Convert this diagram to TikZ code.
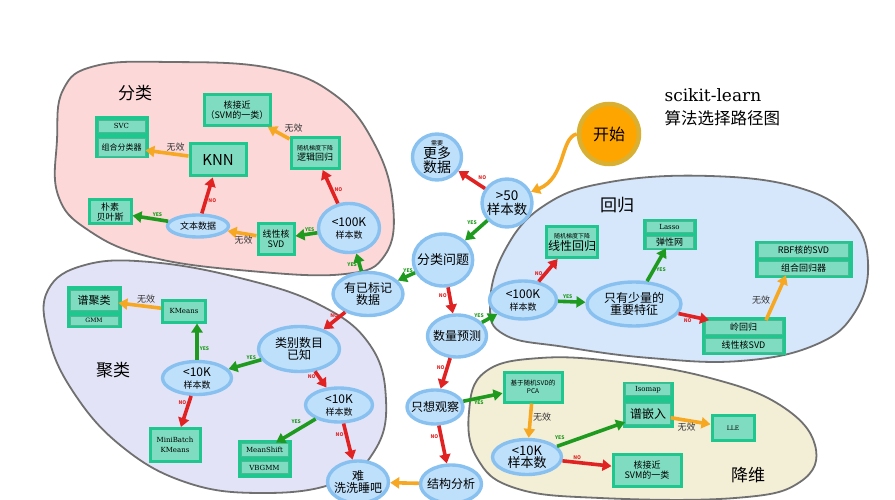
\documentclass[tikz,border=0pt]{standalone}
\usepackage{fontspec}
\setmainfont{Noto Sans CJK SC}
\newfontfamily\serifen{DejaVu Serif}
\usepackage{xcolor}
\usetikzlibrary{shapes,arrows,positioning,calc,arrows.meta}

\definecolor{nodeblue}{HTML}{BFE0FB}
\definecolor{nodeedge}{HTML}{88C1F0}
\definecolor{boxfill}{HTML}{7FDCC0}
\definecolor{boxedge}{HTML}{1FC68E}
\definecolor{rowedge}{HTML}{4CB894}
\definecolor{yesgreen}{HTML}{1E9B1E}
\definecolor{nored}{HTML}{E02222}
\definecolor{failorange}{HTML}{F7A823}
\definecolor{startorange}{HTML}{FFA500}
\definecolor{startedge}{HTML}{D9B032}
\definecolor{blobpink}{HTML}{FDD8D8}
\definecolor{bloblilac}{HTML}{E3E3F7}
\definecolor{blobblue}{HTML}{D6E6FB}
\definecolor{blobbeige}{HTML}{F3EED6}
\definecolor{blobline}{HTML}{707070}

\tikzset{
  blob/.style={draw=blobline, line width=1.8pt},
  dec/.style={ellipse, draw=nodeedge, fill=nodeblue, line width=3.4pt, inner xsep=-5pt, inner ysep=-3pt, align=center, font=\fontsize{12}{12}\selectfont},
  startnode/.style={circle, draw=startedge, fill=startorange, line width=4.5pt, minimum size=60pt, inner sep=0pt, font=\fontsize{16}{16}\selectfont},
  algo/.style={rectangle, draw=boxedge, fill=boxfill, line width=3pt, inner sep=1pt, align=center, font=\fontsize{9}{10}\selectfont},
  stackbox/.style={rectangle, draw=boxedge, fill=boxedge, line width=1pt, inner sep=0pt},
  algrow/.style={rectangle, draw=rowedge, fill=boxfill, line width=.8pt, inner sep=0pt, align=center, font=\fontsize{9}{10}\selectfont},
  yesarrow/.style={draw=yesgreen, line width=3.6pt, -{Triangle[length=9pt,width=11pt]}},
  noarrow/.style={draw=nored, line width=3.6pt, -{Triangle[length=9pt,width=11pt]}},
  failarrow/.style={draw=failorange, line width=3.6pt, -{Triangle[length=9pt,width=11pt]}},
  yestext/.style={text=yesgreen, font=\fontsize{5}{5}\selectfont\bfseries, inner sep=1pt},
  notext/.style={text=nored, font=\fontsize{5}{5}\selectfont\bfseries, inner sep=1pt},
  failtext/.style={text=black!80, font=\fontsize{9}{9}\selectfont, inner sep=1pt},
  areatext/.style={font=\fontsize{17}{17}\selectfont}
}
\newcommand{\tinyline}[1]{{\fontsize{6}{6}\selectfont #1}}
\newcommand{\smallline}[1]{{\fontsize{9}{10}\selectfont #1}}

\begin{document}
\begin{tikzpicture}[x=1pt,y=-1pt]
\useasboundingbox (0,0) rectangle (895,500);

% areas
\draw[blob, fill=blobpink] plot[smooth cycle, tension=0.7] coordinates {(57,140) (63,90) (95,66) (170,62) (270,68) (335,95) (375,145) (393,205) (385,255) (345,274) (250,271) (150,257) (88,230) (58,195)};
\draw[blob, fill=bloblilac] plot[smooth cycle, tension=0.7] coordinates {(48,290) (85,265) (150,262) (240,278) (320,305) (370,345) (386,400) (375,450) (335,483) (260,493) (185,482) (120,445) (72,390) (48,335)};
\draw[blob, fill=blobblue] plot[smooth cycle, tension=0.7] coordinates {(490,305) (505,250) (545,205) (610,182) (710,176) (800,188) (850,218) (868,262) (855,312) (815,345) (740,361) (650,358) (565,347) (505,335)};
\draw[blob, fill=blobbeige] plot[smooth cycle, tension=0.7] coordinates {(469,412) (485,372) (540,358) (620,362) (710,378) (780,405) (815,445) (800,482) (735,498) (600,498) (515,488) (477,458)};

\node[areatext] (lblclass) at (135,93) {分类};
\node[areatext] (lblreg) at (617,205) {回归};
\node[areatext] (lblclust) at (113,370) {聚类};
\node[areatext] (lbldim) at (748,475) {降维};

% title
\node[anchor=west, font=\serifen\fontsize{17}{17}\selectfont] (title) at (661,95) {scikit-learn};
\node[anchor=west, font=\fontsize{16.5}{16.5}\selectfont] (subtitle) at (661,118) {算法选择路径图};

% main path
\node[startnode] (start) at (609,134) {开始};
\node[dec, minimum width=50pt, minimum height=48pt, font=\fontsize{13.5}{13.5}\selectfont] (big50) at (507,203) {>50\\样本数};
\node[dec, minimum width=49pt, minimum height=46pt, font=\fontsize{14}{12}\selectfont] (moredata) at (437,157) {\tinyline{需要}\\更多\\数据};
\node[dec, minimum width=58pt, minimum height=52pt, font=\fontsize{13}{13}\selectfont] (isclass) at (443,260) {分类问题};
\node[dec, minimum width=70pt, minimum height=43pt] (labeled) at (368,294) {有已标记\\数据};
\node[dec, minimum width=59pt, minimum height=42pt] (quantity) at (457,336) {数量预测};
\node[dec, minimum width=56pt, minimum height=34pt] (justlook) at (435,407) {只想观察};
\node[dec, minimum width=61pt, minimum height=38pt] (structure) at (451,484) {结构分析};
\node[dec, minimum width=61pt, minimum height=42pt] (tough) at (358,482) {难\\洗洗睡吧};

% classification
\node[dec, minimum width=61pt, minimum height=49pt] (cls100k) at (349,228) {<100K\\\smallline{样本数}};
\node[dec, minimum width=61pt, minimum height=22pt, font=\fontsize{9}{9}\selectfont] (textdata) at (198,226) {文本数据};
\node[algo, minimum width=48pt, minimum height=31pt] (sgdlog) at (315,153) {\tinyline{随机梯度下降}\\逻辑回归};
\node[algo, minimum width=66pt, minimum height=31pt] (kernapprox) at (237,110) {核接近\\（SVM的一类）};
\node[algo, minimum width=56pt, minimum height=32pt, font=\fontsize{15}{15}\selectfont] (knn) at (218,160) {KNN};
\node[algo, minimum width=42pt, minimum height=24pt] (naive) at (110,212) {朴素\\贝叶斯};
\node[algo, minimum width=36pt, minimum height=30pt] (linsvd) at (276,239) {线性核\\SVD};
\node[stackbox, minimum width=53pt, minimum height=41pt] (svc) at (121.5,137.5) {};
\node[algrow, minimum width=47pt, minimum height=12pt, font=\serifen\fontsize{7}{7}\selectfont] (svcA) at (121.5,126) {SVC};
\node[algrow, minimum width=47pt, minimum height=18pt, font=\fontsize{8}{8}\selectfont] (svcB) at (121.5,147) {组合分类器};

% regression
\node[dec, minimum width=67pt, minimum height=38pt] (reg100k) at (523,300) {<100K\\\smallline{样本数}};
\node[dec, minimum width=94pt, minimum height=44pt] (fewfeat) at (634,304) {只有少量的\\重要特征};
\node[algo, minimum width=51pt, minimum height=31pt, font=\fontsize{12}{12}\selectfont] (sgdlin) at (572,242) {\tinyline{随机梯度下降}\\线性回归};
\node[stackbox, minimum width=53pt, minimum height=29pt] (lasso) at (669.5,234.5) {};
\node[algrow, minimum width=47pt, minimum height=11pt, font=\serifen\fontsize{7}{7}\selectfont] (lassoA) at (669.5,227) {Lasso};
\node[algrow, minimum width=47pt, minimum height=12pt] (lassoB) at (669.5,242) {弹性网};
\node[stackbox, minimum width=83pt, minimum height=37pt] (ridge) at (743.5,335.5) {};
\node[algrow, minimum width=77pt, minimum height=14pt] (ridgeA) at (743.5,327.5) {岭回归};
\node[algrow, minimum width=77pt, minimum height=14pt] (ridgeB) at (743.5,345) {线性核SVD};
\node[stackbox, minimum width=97pt, minimum height=36pt] (rbf) at (803.5,259) {};
\node[algrow, minimum width=90pt, minimum height=14pt] (rbfA) at (803.5,250.5) {RBF核的SVD};
\node[algrow, minimum width=90pt, minimum height=14pt] (rbfB) at (803.5,268) {组合回归器};

% clustering
\node[dec, minimum width=81pt, minimum height=45pt] (catknown) at (299,349) {类别数目\\已知};
\node[dec, minimum width=69pt, minimum height=33pt] (clu10kA) at (197,378) {<10K\\\smallline{样本数}};
\node[dec, minimum width=67pt, minimum height=34pt] (clu10kB) at (339,405) {<10K\\\smallline{样本数}};
\node[algo, minimum width=43pt, minimum height=22pt, font=\serifen\fontsize{7}{7}\selectfont] (kmeans) at (184,311) {KMeans};
\node[algo, minimum width=50pt, minimum height=33pt, font=\serifen\fontsize{7}{10}\selectfont] (minibatch) at (175,445) {MiniBatch\\KMeans};
\node[stackbox, minimum width=54pt, minimum height=41pt] (spectral) at (94,306.5) {};
\node[algrow, minimum width=48pt, minimum height=20pt, font=\fontsize{11}{11}\selectfont] (spectralA) at (94,300) {谱聚类};
\node[algrow, minimum width=48pt, minimum height=9pt, font=\serifen\fontsize{6}{6}\selectfont] (spectralB) at (94,320.5) {GMM};
\node[stackbox, minimum width=53pt, minimum height=37pt] (meanshift) at (264.5,458.5) {};
\node[algrow, minimum width=47pt, minimum height=13pt, font=\serifen\fontsize{7}{7}\selectfont] (meanshiftA) at (264.5,449.5) {MeanShift};
\node[algrow, minimum width=47pt, minimum height=12pt, font=\serifen\fontsize{7}{7}\selectfont] (meanshiftB) at (264.5,467.5) {VBGMM};

% dimensionality reduction
\node[dec, minimum width=69pt, minimum height=35pt, font=\fontsize{13}{12}\selectfont] (dim10k) at (527,457) {<10K\\样本数};
\node[algo, minimum width=58pt, minimum height=30pt, font=\fontsize{6.5}{8}\selectfont] (pca) at (533,387) {基于随机SVD的\\PCA};
\node[algo, minimum width=42pt, minimum height=25pt, font=\serifen\fontsize{6}{6}\selectfont] (lle) at (733,428) {LLE};
\node[algo, minimum width=68pt, minimum height=32pt] (svmone) at (647,470) {核接近\\SVM的一类};
\node[stackbox, minimum width=50pt, minimum height=45pt] (isomap) at (648,404.5) {};
\node[algrow, minimum width=45pt, minimum height=12pt, font=\serifen\fontsize{7}{7}\selectfont] (isomapA) at (648,389.5) {Isomap};
\node[algrow, minimum width=45pt, minimum height=21pt, font=\fontsize{12}{12}\selectfont] (isomapB) at (648,414) {谱嵌入};

% connectors
\draw[failarrow] (start.west) .. controls (560,138) and (566,178) .. (big50.25);
\draw[noarrow] (big50) -- (moredata) node[notext, pos=.35, above right] {NO};
\draw[yesarrow] (big50) -- (isclass) node[yestext, pos=.35, above left] {YES};
\draw[yesarrow] (isclass) -- (labeled) node[yestext, pos=.4, above] {YES};
\draw[yesarrow] (labeled) -- (cls100k) node[yestext, pos=.35, left] {YES};
\draw[noarrow] (cls100k) -- (sgdlog) node[notext, pos=.4, right] {NO};
\draw[failarrow] (sgdlog) -- (kernapprox) node[failtext, pos=.35, above right] {无效};
\draw[yesarrow] (cls100k) -- (linsvd) node[yestext, pos=.35, above] {YES};
\draw[failarrow] (linsvd) -- (textdata) node[failtext, pos=.45, below] {无效};
\draw[noarrow] (textdata) -- (knn) node[notext, pos=.35, right] {NO};
\draw[yesarrow] (textdata) -- (naive) node[yestext, pos=.3, above] {YES};
\draw[failarrow] (knn) -- (svcB) node[failtext, pos=.3, above] {无效};
\draw[noarrow] (labeled) -- (catknown) node[notext, pos=.2, left] {NO};
\draw[yesarrow] (catknown) -- (clu10kA) node[yestext, pos=.3, above] {YES};
\draw[yesarrow] (clu10kA.north) -- (kmeans.south -| clu10kA.north) node[yestext, pos=.3, right] {YES};
\draw[failarrow] (kmeans) -- (spectralA) node[failtext, pos=.35, above] {无效};
\draw[noarrow] (clu10kA) -- (minibatch) node[notext, pos=.2, left] {NO};
\draw[noarrow] (catknown) -- (clu10kB) node[notext, pos=.3, left] {NO};
\draw[yesarrow] (clu10kB) -- (meanshiftA) node[yestext, pos=.3, above left] {YES};
\draw[noarrow] (clu10kB) -- (tough) node[notext, pos=.3, left] {NO};
\draw[noarrow] (isclass) -- (quantity) node[notext, pos=.3, left] {NO};
\draw[yesarrow] (quantity) -- (reg100k) node[yestext, pos=.3, above left] {YES};
\draw[noarrow] (reg100k) -- (sgdlin) node[notext, pos=.35, left] {NO};
\draw[yesarrow] (reg100k) -- (fewfeat) node[yestext, pos=.35, above] {YES};
\draw[yesarrow] (fewfeat) -- (lassoB) node[yestext, pos=.35, right] {YES};
\draw[noarrow] (fewfeat) -- (ridgeA) node[notext, pos=.3, below] {NO};
\draw[failarrow] (ridgeA.north -| 766,0) -- (rbfB.south -| 786,0) node[failtext, pos=.45, left=2pt] {无效};
\draw[noarrow] (quantity) -- (justlook) node[notext, pos=.3, left] {NO};
\draw[yesarrow] (justlook) -- (pca) node[yestext, pos=.4, below] {YES};
\draw[failarrow] (pca) -- (dim10k) node[failtext, pos=.4, right] {无效};
\draw[yesarrow] (dim10k) -- (isomapB) node[yestext, pos=.15, above left] {YES};
\draw[noarrow] (dim10k) -- (svmone) node[notext, pos=.3, above] {NO};
\draw[failarrow] (isomapB) -- (lle) node[failtext, pos=.4, below] {无效};
\draw[noarrow] (justlook) -- (structure) node[notext, pos=.3, left] {NO};
\draw[failarrow] (structure) -- (tough);
\end{tikzpicture}
\end{document}
